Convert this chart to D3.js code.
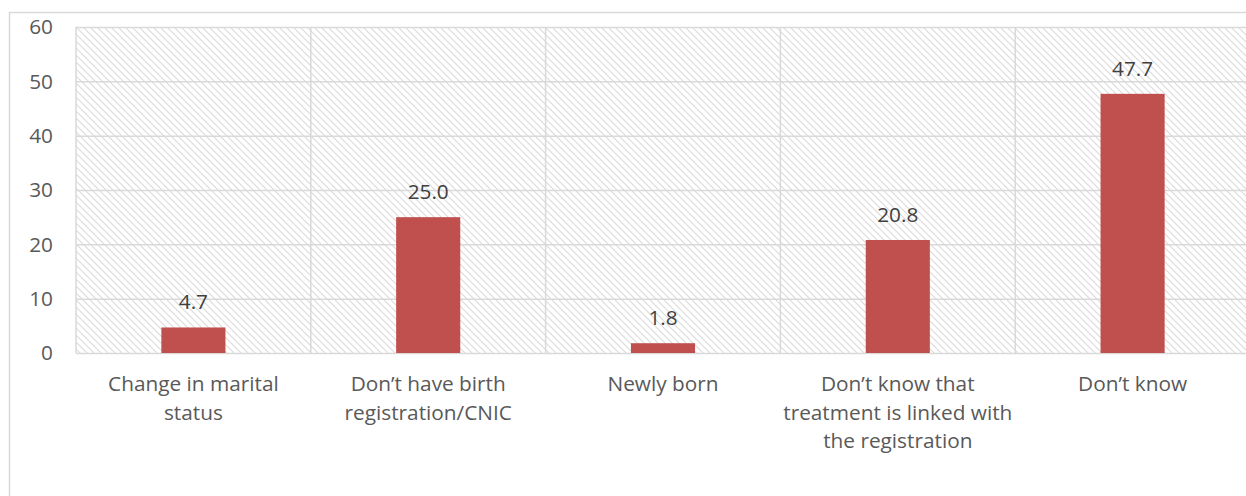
<!DOCTYPE html>
<html><head><meta charset="utf-8">
<script src="https://cdn.jsdelivr.net/npm/d3@7"></script>
<style>body{margin:0;background:#fff;}svg{display:block;}</style>
</head><body>
<svg id="c" width="1246" height="496"></svg>
<script>
const categories = [
  ["Change in marital", "status"],
  ["Don’t have birth", "registration/CNIC"],
  ["Newly born"],
  ["Don’t know that", "treatment is linked with", "the registration"],
  ["Don’t know"]
];
const values = [4.7, 25.0, 1.8, 20.8, 47.7];
const yTicks = [0, 10, 20, 30, 40, 50, 60];

const svg = d3.select("#c");
const font = "'Open Sans', sans-serif";
const fs = 20.8;
const textColor = "#595959";
const gridColor = "#d9d9d9";
const m = {left: 76, top: 27, right: 1250, bottom: 353};

// outer frame
svg.append("rect").attr("x", 9.5).attr("y", 12.5).attr("width", 1300).attr("height", 600)
  .attr("fill", "#fff").attr("stroke", "#d9d9d9").attr("stroke-width", 1.5);

const defs = svg.append("defs");
const pat = defs.append("pattern").attr("id", "hatch").attr("patternUnits", "userSpaceOnUse")
  .attr("width", 7).attr("height", 7);
pat.append("path").attr("d", "M-1,-1 L8,8 M-1,6 L1,8 M6,-1 L8,1")
  .attr("stroke", "#dadada").attr("stroke-width", 1.1);

const x = d3.scaleBand().domain(d3.range(categories.length)).range([m.left, m.right]).paddingInner(0).paddingOuter(0);
const y = d3.scaleLinear().domain([0, 60]).range([m.bottom, m.top]);

svg.append("rect").attr("x", m.left).attr("y", m.top).attr("width", m.right - m.left).attr("height", m.bottom - m.top)
  .attr("fill", "url(#hatch)");

// horizontal gridlines
svg.append("g").selectAll("line").data(yTicks).join("line")
  .attr("x1", m.left).attr("x2", m.right)
  .attr("y1", d => y(d) + 0.5).attr("y2", d => y(d) + 0.5)
  .attr("stroke", gridColor).attr("stroke-width", 1.5);
// vertical gridlines
svg.append("g").selectAll("line").data(d3.range(categories.length + 1)).join("line")
  .attr("x1", d => m.left + d * x.step()).attr("x2", d => m.left + d * x.step())
  .attr("y1", m.top).attr("y2", m.bottom)
  .attr("stroke", gridColor).attr("stroke-width", 1.5);

// y labels
svg.append("g").selectAll("text").data(yTicks).join("text")
  .attr("x", 53).attr("y", d => y(d)).attr("dy", "0.35em")
  .attr("text-anchor", "end").attr("font-family", font).attr("font-size", fs)
  .attr("fill", textColor).text(d => d);

// bars
const bw = x.bandwidth() * 0.273;
svg.append("g").selectAll("rect").data(values).join("rect")
  .attr("x", (d, i) => x(i) + x.bandwidth() / 2 - bw / 2)
  .attr("y", d => y(d)).attr("width", bw).attr("height", d => y(0) - y(d))
  .attr("fill", "#c0504d");

// value labels
svg.append("g").selectAll("text").data(values).join("text")
  .attr("x", (d, i) => x(i) + x.bandwidth() / 2).attr("y", d => y(d) - 18)
  .attr("text-anchor", "middle").attr("font-family", font).attr("font-size", fs)
  .attr("fill", "#404040").text(d => d.toFixed(1));

// category labels
const cg = svg.append("g").selectAll("text").data(categories).join("text")
  .attr("x", (d, i) => x(i) + x.bandwidth() / 2).attr("y", 391)
  .attr("text-anchor", "middle").attr("font-family", font).attr("font-size", fs)
  .attr("fill", textColor);
cg.selectAll("tspan").data(d => d).join("tspan")
  .attr("x", function() { return this.parentNode.getAttribute("x"); })
  .attr("dy", (d, i) => i === 0 ? 0 : 28.5).text(d => d);
</script>
</body></html>
